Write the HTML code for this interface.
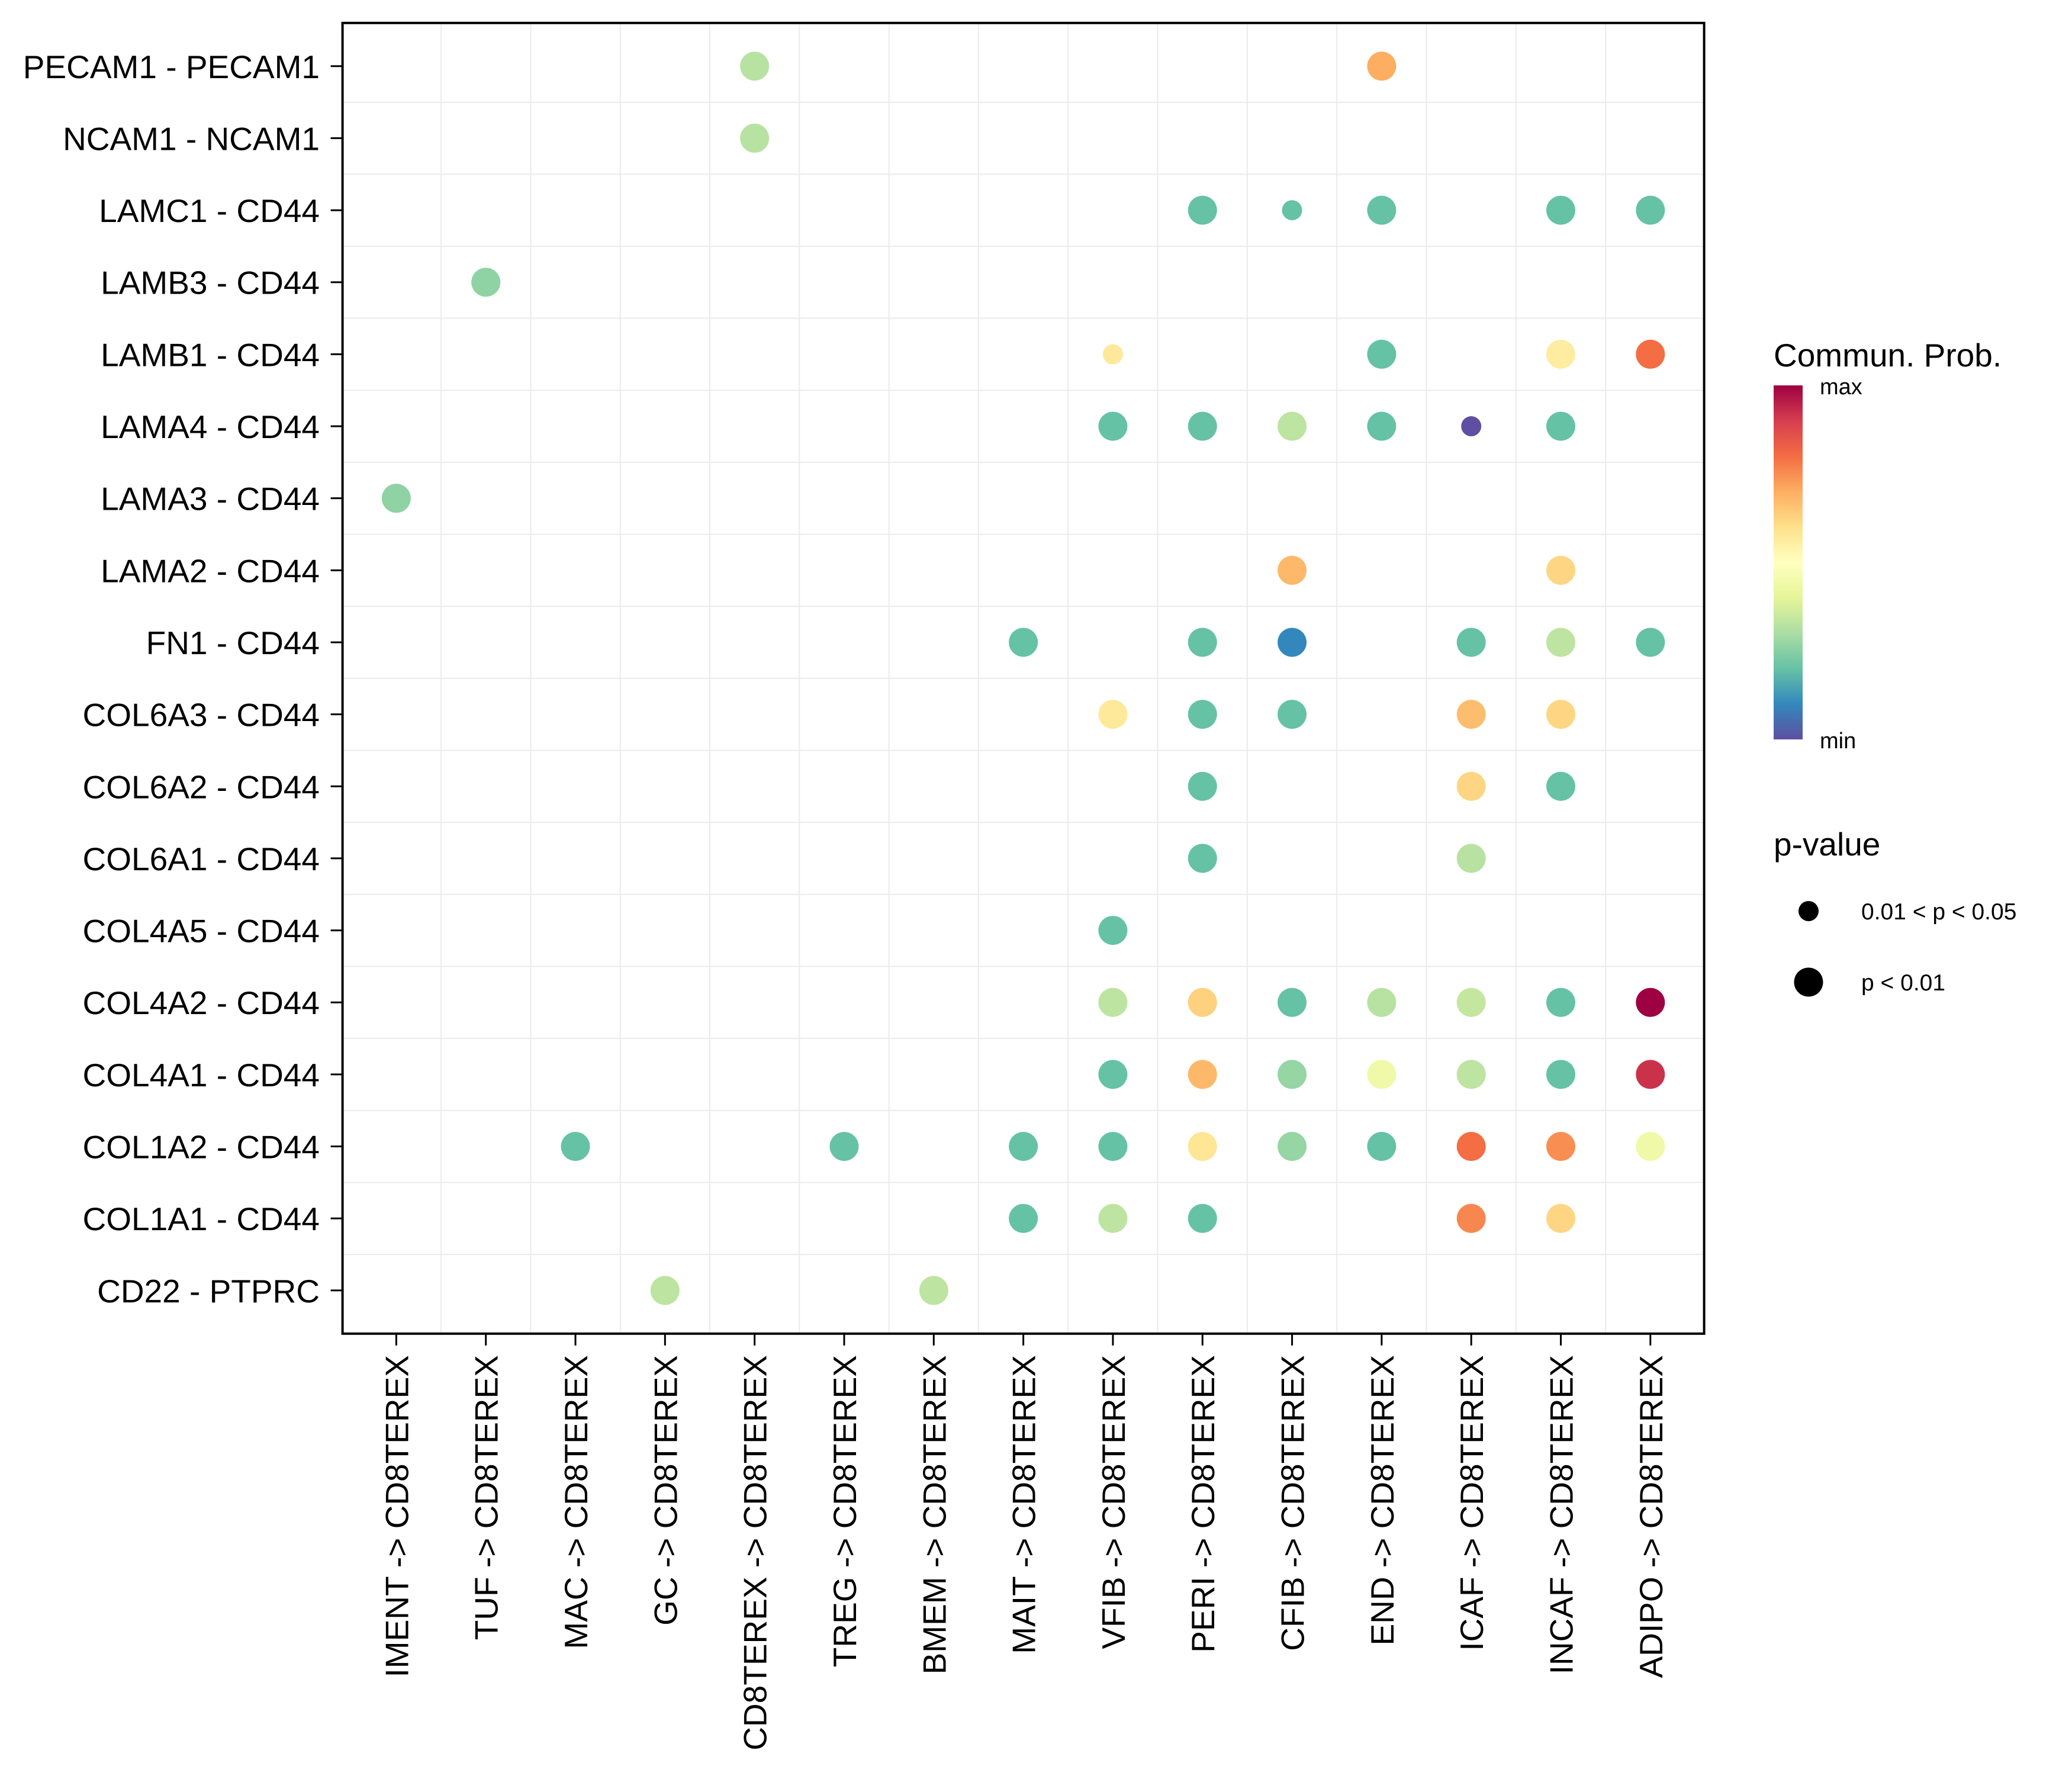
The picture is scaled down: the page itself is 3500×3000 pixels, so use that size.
<!DOCTYPE html>
<html><head><meta charset="utf-8"><style>
html,body{margin:0;padding:0;background:#fff;}
svg{display:block;font-family:"Liberation Sans",Arial,sans-serif;}
</style></head><body>
<svg id="chart" width="3500" height="3000" viewBox="0 0 3500 3000" xmlns="http://www.w3.org/2000/svg">
<defs>
<linearGradient id="spec" x1="0" y1="1" x2="0" y2="0">
<stop offset="0" stop-color="#5E4FA2"/><stop offset="0.1" stop-color="#3288BD"/><stop offset="0.2" stop-color="#66C2A5"/><stop offset="0.3" stop-color="#ABDDA4"/><stop offset="0.4" stop-color="#E6F598"/><stop offset="0.5" stop-color="#FFFFBF"/><stop offset="0.6" stop-color="#FEE08B"/><stop offset="0.7" stop-color="#FDAE61"/><stop offset="0.8" stop-color="#F46D43"/><stop offset="0.9" stop-color="#D53E4F"/><stop offset="1" stop-color="#9E0142"/>
</linearGradient>
</defs>
<g id="grid"></g>
<g id="points"></g>
<rect x="578.6" y="38.8" width="2300" height="2214" fill="none" stroke="#000" stroke-width="4"/>
<g id="yaxis"></g>
<g id="xaxis"></g>
<g>
<text x="2996" y="619" font-size="55">Commun. Prob.</text>
<rect x="2996" y="651" width="49" height="598" fill="url(#spec)"/>
<text x="3074" y="666" font-size="38">max</text>
<text x="3074" y="1264" font-size="38">min</text>
</g>
<g>
<text x="2996" y="1445" font-size="55">p-value</text>
<circle cx="3055" cy="1539" r="17" fill="#000"/>
<text x="3144" y="1553" font-size="39">0.01 &lt; p &lt; 0.05</text>
<circle cx="3055" cy="1659" r="24.5" fill="#000"/>
<text x="3144" y="1673" font-size="39">p &lt; 0.01</text>
</g>
</svg>
<script>
const rowLabels=["PECAM1 - PECAM1","NCAM1 - NCAM1","LAMC1 - CD44","LAMB3 - CD44","LAMB1 - CD44","LAMA4 - CD44","LAMA3 - CD44","LAMA2 - CD44","FN1 - CD44","COL6A3 - CD44","COL6A2 - CD44","COL6A1 - CD44","COL4A5 - CD44","COL4A2 - CD44","COL4A1 - CD44","COL1A2 - CD44","COL1A1 - CD44","CD22 - PTPRC"];
const colLabels=["IMENT -> CD8TEREX","TUF -> CD8TEREX","MAC -> CD8TEREX","GC -> CD8TEREX","CD8TEREX -> CD8TEREX","TREG -> CD8TEREX","BMEM -> CD8TEREX","MAIT -> CD8TEREX","VFIB -> CD8TEREX","PERI -> CD8TEREX","CFIB -> CD8TEREX","END -> CD8TEREX","ICAF -> CD8TEREX","INCAF -> CD8TEREX","ADIPO -> CD8TEREX"];
const ptRow=[0,0,1,2,2,2,2,2,3,4,4,4,4,5,5,5,5,5,5,6,7,7,8,8,8,8,8,8,9,9,9,9,9,10,10,10,11,11,12,13,13,13,13,13,13,13,14,14,14,14,14,14,14,15,15,15,15,15,15,15,15,15,15,16,16,16,16,16,17,17];
const ptCol=[4,11,4,9,10,11,13,14,1,8,11,13,14,8,9,10,11,12,13,0,10,13,7,9,10,12,13,14,8,9,10,12,13,9,12,13,9,12,8,8,9,10,11,12,13,14,8,9,10,11,12,13,14,2,5,7,8,9,10,11,12,13,14,7,8,9,12,13,3,6];
const ptVal=[0.32,0.7,0.32,0.2,0.2,0.2,0.2,0.2,0.26,0.57,0.2,0.56,0.8,0.2,0.2,0.33,0.2,0.0,0.2,0.26,0.68,0.62,0.2,0.2,0.1,0.2,0.33,0.2,0.57,0.2,0.2,0.67,0.62,0.2,0.62,0.2,0.2,0.32,0.2,0.33,0.63,0.2,0.32,0.34,0.2,1.0,0.2,0.68,0.27,0.44,0.33,0.2,0.92,0.2,0.2,0.2,0.2,0.58,0.27,0.2,0.8,0.75,0.44,0.2,0.33,0.2,0.76,0.62,0.33,0.33];
const ptSig=[1,1,1,1,0,1,1,1,1,0,1,1,1,1,1,1,1,0,1,1,1,1,1,1,1,1,1,1,1,1,1,1,1,1,1,1,1,1,1,1,1,1,1,1,1,1,1,1,1,1,1,1,1,1,1,1,1,1,1,1,1,1,1,1,1,1,1,1,1,1];

const L=578.6,T=38.8,W=2300,H=2214;
const cs=W/(colLabels.length-1+1.2), rs=H/(rowLabels.length-1+1.2);
const xPos=i=>L+0.6*cs+i*cs;
const yPos=j=>T+0.6*rs+j*rs;
const stops=["#5E4FA2","#3288BD","#66C2A5","#ABDDA4","#E6F598","#FFFFBF","#FEE08B","#FDAE61","#F46D43","#D53E4F","#9E0142"];
function hex(h){return [1,3,5].map(k=>parseInt(h.substr(k,2),16));}
function col(v){v=Math.max(0,Math.min(1,v))*10;const i=Math.min(9,Math.floor(v)),f=v-i;const a=hex(stops[i]),b=hex(stops[i+1]);return "rgb("+a.map((c,k)=>Math.round(c+(b[k]-c)*f)).join(",")+")";}
const NS="http://www.w3.org/2000/svg";
function mk(tag,attrs,parent){const e=document.createElementNS(NS,tag);for(const k in attrs)e.setAttribute(k,attrs[k]);parent.appendChild(e);return e;}
const grid=document.getElementById('grid'),pts=document.getElementById('points'),ya=document.getElementById('yaxis'),xa=document.getElementById('xaxis');
for(let i=0;i<colLabels.length-1;i++){const x=(xPos(i)+xPos(i+1))/2;const g=mk('line',{x1:x,x2:x,y1:T,y2:T+H,stroke:'#ebebeb','stroke-width':2},grid);

}
for(let j=0;j<rowLabels.length-1;j++){const y=(yPos(j)+yPos(j+1))/2;const g=mk('line',{x1:L,x2:L+W,y1:y,y2:y,stroke:'#ebebeb','stroke-width':2},grid);

}
rowLabels.forEach((t,j)=>{const y=yPos(j);
const tk=mk('line',{x1:L-20,x2:L,y1:y,y2:y,stroke:'#000','stroke-width':3},ya);


const tx=mk('text',{x:540,y:y+20,'font-size':55,'text-anchor':'end',fill:'#000'},ya);tx.textContent=t;

});
colLabels.forEach((t,i)=>{const x=xPos(i);
const tk=mk('line',{x1:x,x2:x,y1:T+H,y2:T+H+20,stroke:'#000','stroke-width':3},xa);


const tx=mk('text',{x:0,y:0,'font-size':55,'text-anchor':'end',fill:'#000',transform:'translate('+(x+20)+',2289) rotate(-90)'},xa);tx.textContent=t;

});
for(let k=0;k<ptVal.length;k++){
const c=mk('circle',{cx:xPos(ptCol[k]),cy:yPos(ptRow[k]),r:ptSig[k]?24.5:17,fill:col(ptVal[k])},pts);

}
</script>
</body></html>
